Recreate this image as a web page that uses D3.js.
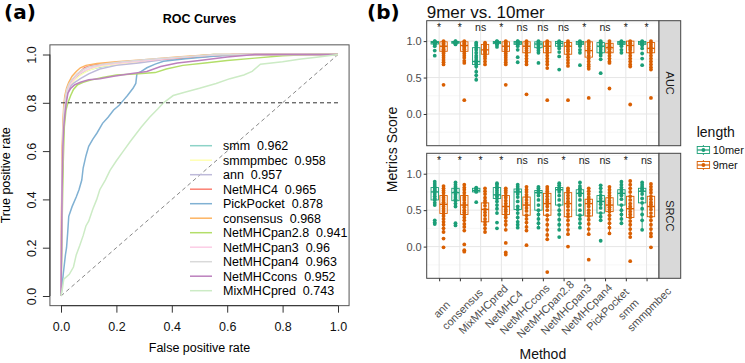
<!DOCTYPE html>
<html>
<head>
<meta charset="utf-8">
<script src="https://cdn.jsdelivr.net/npm/d3@7"></script>
<style>
  body { margin: 0; background: #fff; }
  text { font-family: "Liberation Sans", Arial, sans-serif; }
</style>
</head>
<body>
<svg id="chart" width="745" height="363"></svg>
<script>
// ---- panel (a): ROC curves ----
const rocNames = ["smm", "smmpmbec", "ann", "NetMHC4", "PickPocket", "consensus",
  "NetMHCpan2.8", "NetMHCpan3", "NetMHCpan4", "NetMHCcons", "MixMHCpred"];
const rocAuc = ["0.962", "0.958", "0.957", "0.965", "0.878", "0.968", "0.941", "0.96", "0.963", "0.952", "0.743"];

const rocSmm = [[0,0],[0.003,0.35],[0.006,0.62],[0.01,0.74],[0.014,0.8],[0.02,0.84],[0.03,0.865],[0.045,0.89],[0.06,0.91],[0.08,0.925],[0.11,0.94],[0.15,0.95],[0.2,0.96],[0.28,0.97],[0.36,0.98],[0.45,0.99],[0.55,1],[1,1]];
const rocSmmpmbec = [[0,0],[0.003,0.3],[0.006,0.6],[0.01,0.73],[0.015,0.8],[0.022,0.84],[0.032,0.87],[0.05,0.895],[0.07,0.915],[0.1,0.935],[0.14,0.95],[0.2,0.96],[0.3,0.97],[0.4,0.985],[0.5,0.995],[0.6,1],[1,1]];
const rocAnn = [[0,0],[0.004,0.4],[0.008,0.66],[0.012,0.76],[0.018,0.81],[0.025,0.845],[0.035,0.87],[0.05,0.885],[0.07,0.9],[0.1,0.92],[0.14,0.94],[0.2,0.955],[0.28,0.965],[0.38,0.98],[0.5,0.99],[0.62,1],[1,1]];
const rocNetMHC4 = [[0,0],[0.002,0.3],[0.004,0.55],[0.007,0.68],[0.01,0.76],[0.014,0.81],[0.02,0.85],[0.028,0.875],[0.04,0.895],[0.055,0.91],[0.07,0.93],[0.085,0.945],[0.11,0.955],[0.16,0.963],[0.25,0.972],[0.35,0.98],[0.5,0.99],[0.62,1],[1,1]];
const rocPickPocket = [[0,0],[0.004,0.04],[0.008,0.09],[0.012,0.13],[0.016,0.17],[0.02,0.2],[0.024,0.26],[0.028,0.33],[0.04,0.37],[0.055,0.41],[0.065,0.44],[0.075,0.48],[0.08,0.53],[0.09,0.58],[0.1,0.62],[0.115,0.65],[0.13,0.675],[0.15,0.715],[0.17,0.74],[0.19,0.77],[0.21,0.79],[0.225,0.81],[0.24,0.83],[0.26,0.86],[0.27,0.88],[0.274,0.92],[0.29,0.93],[0.31,0.945],[0.34,0.96],[0.37,0.972],[0.45,0.982],[0.55,0.993],[0.65,1],[1,1]];
const rocConsensus = [[0,0],[0.002,0.35],[0.004,0.6],[0.007,0.72],[0.01,0.79],[0.014,0.83],[0.02,0.86],[0.028,0.885],[0.04,0.91],[0.055,0.93],[0.07,0.945],[0.09,0.955],[0.13,0.963],[0.2,0.97],[0.3,0.978],[0.42,0.99],[0.55,1],[1,1]];
const rocNetMHCpan28 = [[0,0],[0.004,0.3],[0.008,0.55],[0.012,0.7],[0.018,0.77],[0.025,0.8],[0.035,0.83],[0.045,0.855],[0.06,0.875],[0.08,0.885],[0.11,0.895],[0.15,0.905],[0.2,0.915],[0.28,0.92],[0.34,0.925],[0.38,0.94],[0.44,0.955],[0.52,0.965],[0.6,0.975],[0.7,0.985],[0.8,0.995],[0.9,1],[1,1]];
const rocNetMHCpan3 = [[0,0],[0.003,0.4],[0.006,0.62],[0.01,0.75],[0.015,0.81],[0.022,0.85],[0.032,0.875],[0.045,0.895],[0.06,0.915],[0.08,0.93],[0.11,0.945],[0.16,0.958],[0.24,0.968],[0.34,0.978],[0.45,0.99],[0.58,1],[1,1]];
const rocNetMHCpan4 = [[0,0],[0.003,0.42],[0.006,0.64],[0.01,0.76],[0.015,0.82],[0.021,0.855],[0.03,0.88],[0.042,0.9],[0.058,0.92],[0.075,0.935],[0.1,0.948],[0.15,0.96],[0.22,0.97],[0.32,0.98],[0.44,0.99],[0.56,1],[1,1]];
const rocNetMHCcons = [[0,0],[0.002,0.2],[0.004,0.45],[0.007,0.62],[0.01,0.7],[0.014,0.75],[0.019,0.8],[0.025,0.84],[0.035,0.86],[0.05,0.875],[0.07,0.885],[0.1,0.895],[0.14,0.9],[0.19,0.91],[0.25,0.92],[0.31,0.93],[0.36,0.95],[0.42,0.965],[0.5,0.975],[0.6,0.99],[0.7,1],[1,1]];
const rocMixMHCpred = [[0,0],[0.005,0.03],[0.01,0.07],[0.03,0.09],[0.045,0.12],[0.055,0.17],[0.068,0.21],[0.08,0.25],[0.09,0.29],[0.1,0.31],[0.115,0.36],[0.129,0.4],[0.14,0.44],[0.16,0.48],[0.177,0.52],[0.2,0.56],[0.225,0.6],[0.25,0.64],[0.27,0.67],[0.29,0.7],[0.32,0.74],[0.35,0.775],[0.37,0.8],[0.405,0.83],[0.45,0.845],[0.5,0.86],[0.56,0.88],[0.61,0.9],[0.66,0.915],[0.69,0.93],[0.72,0.96],[0.8,0.97],[0.86,0.98],[0.93,0.99],[1,1]];

const rocCurves = [rocSmm, rocSmmpmbec, rocAnn, rocNetMHC4, rocPickPocket, rocConsensus,
  rocNetMHCpan28, rocNetMHCpan3, rocNetMHCpan4, rocNetMHCcons, rocMixMHCpred];
const rocTicks = [0, 0.2, 0.4, 0.6, 0.8, 1.0];
const tprCutoff = 0.8;

// ---- panel (b): box plots ----
const methods = ["ann", "consensus", "MixMHCpred", "NetMHC4", "NetMHCcons", "NetMHCpan2.8",
  "NetMHCpan3", "NetMHCpan4", "PickPocket", "smm", "smmpmbec"];
const lengths = ["10mer", "9mer"];
const metrics = ["AUC", "SRCC"];
const aucSig = ["*", "*", "ns", "*", "ns", "ns", "ns", "*", "ns", "*", "*"];
const srccSig = ["*", "*", "*", "*", "ns", "ns", "*", "ns", "ns", "*", "ns"];
const scoreTicks = [0, 0.5, 1.0];
const scoreMinor = [-0.25, 0.25, 0.75, 1.25];

// box stats: [lower whisker, q1, median, q3, upper whisker]
const aucBox10 = [[0.93,0.96,0.98,0.995,1],[0.955,0.97,0.985,0.995,1],[0.47,0.68,0.72,0.91,0.98],[0.95,0.965,0.98,0.995,1],[0.93,0.955,0.975,0.995,1],[0.84,0.91,0.96,0.99,1],[0.9,0.93,0.97,0.995,1],[0.93,0.955,0.975,0.995,1],[0.8,0.84,0.93,0.98,1],[0.93,0.955,0.975,0.995,1],[0.93,0.955,0.975,0.995,1]];
const aucBox9 = [[0.68,0.86,0.93,0.99,1],[0.7,0.86,0.94,0.99,1],[0.68,0.82,0.88,0.955,0.98],[0.68,0.86,0.93,0.99,1],[0.68,0.84,0.93,0.99,1],[0.63,0.84,0.93,0.99,1],[0.66,0.82,0.93,0.98,1],[0.62,0.78,0.87,0.99,1],[0.7,0.84,0.91,0.97,1],[0.65,0.84,0.94,1,1],[0.61,0.84,0.9,0.98,1]];
const srccBox10 = [[0.57,0.64,0.75,0.81,0.89],[0.55,0.63,0.74,0.8,0.88],[0.75,0.75,0.77,0.8,0.81],[0.46,0.66,0.71,0.81,0.87],[0.26,0.51,0.75,0.79,0.85],[0.26,0.5,0.74,0.77,0.82],[0.23,0.57,0.78,0.81,0.87],[0.26,0.43,0.73,0.78,0.88],[0.36,0.46,0.62,0.7,0.84],[0.32,0.57,0.73,0.78,0.89],[0.23,0.6,0.76,0.8,0.88]];
const srccBox9 = [[0.2,0.455,0.58,0.7,0.83],[0.22,0.44,0.57,0.7,0.85],[0.2,0.34,0.51,0.6,0.8],[0.23,0.44,0.55,0.7,0.8],[0.22,0.43,0.57,0.68,0.82],[0.1,0.43,0.59,0.73,0.82],[0.17,0.41,0.59,0.74,0.8],[0.17,0.42,0.59,0.65,0.8],[0.18,0.48,0.57,0.67,0.82],[0.13,0.4,0.52,0.69,0.9],[0.14,0.41,0.55,0.69,0.86]];

// all observations per method
const aucPts10 = [
  [1,0.995,0.99,0.985,0.98,0.975,0.97,0.96,0.95,0.93,0.87,0.8],
  [1,0.995,0.99,0.985,0.98,0.975,0.97,0.96,0.955],
  [0.98,0.96,0.94,0.91,0.88,0.84,0.8,0.77,0.74,0.72,0.7,0.68,0.65,0.58,0.53,0.47],
  [1,0.995,0.99,0.98,0.975,0.97,0.96,0.95,0.92],
  [1,0.995,0.99,0.98,0.97,0.96,0.95,0.93,0.88,0.78,0.71],
  [1,0.99,0.98,0.96,0.94,0.92,0.9,0.87,0.84,0.7],
  [1,0.99,0.98,0.97,0.95,0.93,0.9,0.85,0.79,0.61],
  [1,0.99,0.98,0.97,0.96,0.95,0.93,0.88,0.84,0.67],
  [1,0.99,0.97,0.95,0.93,0.91,0.88,0.85,0.83,0.8,0.75,0.56],
  [1,0.99,0.98,0.97,0.96,0.95,0.93,0.88,0.84],
  [1,0.99,0.98,0.97,0.96,0.94,0.9,0.83,0.76,0.67]];
const aucPts9 = [
  [1,0.99,0.97,0.95,0.93,0.91,0.89,0.87,0.85,0.83,0.8,0.77,0.74,0.71,0.68,0.4],
  [1,0.99,0.97,0.95,0.93,0.91,0.89,0.86,0.83,0.8,0.77,0.73,0.7,0.19],
  [0.98,0.96,0.94,0.92,0.9,0.88,0.86,0.84,0.82,0.79,0.76,0.72,0.68],
  [1,0.99,0.97,0.95,0.93,0.91,0.89,0.86,0.83,0.8,0.77,0.74,0.71,0.68,0.4],
  [1,0.99,0.97,0.95,0.93,0.9,0.87,0.84,0.8,0.76,0.72,0.68,0.27],
  [1,0.99,0.97,0.95,0.93,0.9,0.87,0.84,0.8,0.76,0.72,0.68,0.63,0.19],
  [1,0.98,0.96,0.94,0.92,0.89,0.86,0.82,0.78,0.74,0.7,0.66,0.19],
  [1,0.98,0.96,0.93,0.9,0.87,0.84,0.8,0.76,0.72,0.68,0.65,0.62,0.22],
  [1,0.97,0.95,0.93,0.91,0.89,0.86,0.84,0.8,0.76,0.72,0.7,0.35],
  [1,0.99,0.97,0.94,0.91,0.88,0.84,0.8,0.76,0.72,0.68,0.65,0.13],
  [1,0.98,0.95,0.92,0.9,0.87,0.84,0.8,0.76,0.72,0.68,0.64,0.61,0.22]];
const srccPts10 = [
  [0.89,0.86,0.83,0.81,0.79,0.77,0.75,0.72,0.69,0.66,0.64,0.6,0.57,0.36,0.33,0.31],
  [0.88,0.85,0.82,0.8,0.78,0.76,0.74,0.71,0.68,0.65,0.63,0.59,0.55,0.32,0.29],
  [0.81,0.8,0.78,0.77,0.76,0.75,0.61],
  [0.87,0.85,0.82,0.8,0.77,0.74,0.71,0.69,0.66,0.62,0.57,0.52,0.46,0.33,0.25],
  [0.85,0.82,0.79,0.77,0.75,0.72,0.68,0.62,0.55,0.51,0.46,0.4,0.34,0.3,0.26],
  [0.82,0.8,0.77,0.75,0.74,0.7,0.64,0.57,0.5,0.44,0.38,0.32,0.26],
  [0.87,0.84,0.81,0.79,0.78,0.75,0.7,0.64,0.57,0.5,0.44,0.37,0.3,0.23,0.13],
  [0.88,0.83,0.8,0.78,0.75,0.73,0.7,0.64,0.57,0.5,0.43,0.38,0.32,0.26],
  [0.84,0.8,0.75,0.7,0.66,0.62,0.58,0.53,0.46,0.41,0.36,0.08],
  [0.89,0.85,0.81,0.78,0.75,0.73,0.7,0.65,0.57,0.5,0.44,0.38,0.32],
  [0.88,0.85,0.82,0.8,0.78,0.76,0.72,0.66,0.6,0.52,0.44,0.36,0.23]];
const srccPts9 = [
  [0.83,0.8,0.77,0.74,0.7,0.67,0.64,0.61,0.58,0.55,0.52,0.49,0.455,0.42,0.38,0.34,0.3,0.25,0.2,0.11,-0.01],
  [0.85,0.81,0.78,0.74,0.7,0.67,0.64,0.6,0.57,0.54,0.5,0.47,0.44,0.4,0.36,0.31,0.27,0.22,0.03,-0.05,-0.07],
  [0.8,0.76,0.72,0.67,0.63,0.6,0.56,0.51,0.47,0.43,0.38,0.34,0.3,0.25,0.2],
  [0.8,0.77,0.74,0.7,0.67,0.63,0.59,0.55,0.51,0.48,0.44,0.4,0.35,0.3,0.23,0.05,-0.08,-0.11],
  [0.82,0.78,0.75,0.71,0.68,0.64,0.6,0.57,0.53,0.49,0.43,0.38,0.33,0.27,0.22,0.02],
  [0.82,0.79,0.76,0.73,0.69,0.65,0.62,0.59,0.55,0.5,0.43,0.37,0.3,0.23,0.16,0.1,-0.35],
  [0.8,0.77,0.74,0.7,0.66,0.62,0.59,0.55,0.5,0.45,0.41,0.36,0.3,0.23,0.17,0],
  [0.8,0.76,0.72,0.68,0.65,0.62,0.59,0.55,0.5,0.46,0.42,0.37,0.31,0.24,0.17,-0.18],
  [0.82,0.78,0.74,0.7,0.67,0.63,0.6,0.57,0.54,0.51,0.48,0.43,0.38,0.32,0.26,0.18],
  [0.9,0.85,0.8,0.75,0.69,0.64,0.59,0.55,0.52,0.48,0.44,0.4,0.35,0.3,0.24,0.18,0.13,-0.2],
  [0.86,0.82,0.78,0.74,0.69,0.65,0.61,0.58,0.55,0.51,0.46,0.41,0.36,0.3,0.24,0.18,0.14,-0.01]];

// colours
const rocColors = d3.schemeSet3;
const lenColor = { "10mer": "#1b9e77", "9mer": "#d95f02" };

const svg = d3.select("#chart");

// ======================= panel (a) =======================
const xA = d3.scaleLinear().domain([0, 1]).range([61, 338]);
const yA = d3.scaleLinear().domain([0, 1]).range([296, 54.5]);
const boxL = xA(-0.04), boxR = xA(1.04), boxT = yA(1.04), boxB = yA(-0.04);

svg.append("text").attr("x", 4).attr("y", 19)
  .style("font-family", "'DejaVu Sans', sans-serif")
  .style("font-weight", "bold").style("font-size", "20px").text("(a)");

svg.append("text").attr("x", (boxL + boxR) / 2).attr("y", 23)
  .attr("text-anchor", "middle").style("font-weight", "bold").style("font-size", "12.5px")
  .text("ROC Curves");

// reference lines
svg.append("line")
  .attr("x1", xA(0)).attr("y1", yA(0)).attr("x2", xA(1)).attr("y2", yA(1))
  .attr("stroke", "#888").attr("stroke-width", 1).attr("stroke-dasharray", "4,3");

const line = d3.line().x(d => xA(d[0])).y(d => yA(d[1]));
rocCurves.forEach((c, i) => {
  svg.append("path").datum(c)
    .attr("d", line).attr("fill", "none")
    .attr("stroke", rocColors[i]).attr("stroke-width", 1.5);
});

svg.append("line")
  .attr("x1", xA(0)).attr("x2", xA(1)).attr("y1", yA(tprCutoff)).attr("y2", yA(tprCutoff))
  .attr("stroke", "#333").attr("stroke-width", 1).attr("stroke-dasharray", "4,3");

svg.append("rect")
  .attr("x", boxL).attr("y", boxT).attr("width", boxR - boxL).attr("height", boxB - boxT)
  .attr("fill", "none").attr("stroke", "#555").attr("stroke-width", 1);

// x axis
const xAxisA = svg.append("g").attr("transform", `translate(0,${boxB})`)
  .call(d3.axisBottom(xA).tickValues(rocTicks).tickFormat(d3.format(".1f")).tickSize(7).tickSizeOuter(0));
xAxisA.select(".domain").attr("d", `M${xA(0)},0H${xA(1)}`).attr("stroke", "#333");
xAxisA.selectAll("line").attr("stroke", "#333");
xAxisA.selectAll("text").attr("y", 16).style("font-size", "12.5px").attr("fill", "#111")
  .style("font-family", "'Liberation Sans', Arial, sans-serif");

// y axis
const yAxisA = svg.append("g").attr("transform", `translate(${boxL},0)`)
  .call(d3.axisLeft(yA).tickValues(rocTicks).tickFormat(d3.format(".1f")).tickSize(7).tickSizeOuter(0));
yAxisA.select(".domain").attr("d", `M0,${yA(0)}V${yA(1)}`).attr("stroke", "#333");
yAxisA.selectAll("line").attr("stroke", "#333");
yAxisA.selectAll("text")
  .attr("x", null).attr("dy", null)
  .attr("transform", "translate(-14,0) rotate(-90)")
  .attr("text-anchor", "middle").attr("fill", "#111")
  .style("font-size", "12.5px").style("font-family", "'Liberation Sans', Arial, sans-serif");

svg.append("text").attr("x", (boxL + boxR) / 2).attr("y", 352)
  .attr("text-anchor", "middle").style("font-size", "12.5px").text("False positive rate");
svg.append("text").attr("transform", `translate(10,${(boxT + boxB) / 2}) rotate(-90)`)
  .attr("text-anchor", "middle").style("font-size", "12.5px").text("True positive rate");

// legend
const legA = svg.append("g").attr("transform", "translate(190,145.7)");
rocNames.forEach((n, i) => {
  const g = legA.append("g").attr("transform", `translate(0,${i * 14.5})`);
  g.append("line").attr("x1", 0).attr("x2", 22).attr("y1", 0).attr("y2", 0)
    .attr("stroke", rocColors[i]).attr("stroke-width", 1.5);
  g.append("text").attr("x", 33).attr("y", 4.5)
    .style("font-size", "12.5px").style("white-space", "pre")
    .text(n + "  " + rocAuc[i]);
});

// ======================= panel (b) =======================
const pL = 426.7, pR = 659, stripW = 21.7;
const panels = [
  { metric: "AUC", top: 20.7, bottom: 145.7, box10: aucBox10, box9: aucBox9, pts10: aucPts10, pts9: aucPts9, sig: aucSig },
  { metric: "SRCC", top: 153.3, bottom: 278.3, box10: srccBox10, box9: srccBox9, pts10: srccPts10, pts9: srccPts9, sig: srccSig }
];
const xB = d3.scalePoint().domain(methods).range([pL, pR]).padding(0.6);
const dodge = 4.4, bw = 7.4;

svg.append("text").attr("x", 367).attr("y", 19)
  .style("font-family", "'DejaVu Sans', sans-serif")
  .style("font-weight", "bold").style("font-size", "20px").text("(b)");
svg.append("text").attr("x", pL).attr("y", 17.5).style("font-size", "17px")
  .attr("fill", "#111").text("9mer vs. 10mer");

panels.forEach(p => {
  const y = d3.scaleLinear().domain([-0.435, 1.28]).range([p.bottom, p.top]);
  const g = svg.append("g");

  g.append("rect").attr("x", pL).attr("y", p.top).attr("width", pR - pL).attr("height", p.bottom - p.top)
    .attr("fill", "#fff");
  // grid
  g.selectAll(".minor").data(scoreMinor).enter().append("line")
    .attr("x1", pL).attr("x2", pR).attr("y1", d => y(d)).attr("y2", d => y(d))
    .attr("stroke", "#f2f2f2").attr("stroke-width", 0.6);
  g.selectAll(".major").data(scoreTicks).enter().append("line")
    .attr("x1", pL).attr("x2", pR).attr("y1", d => y(d)).attr("y2", d => y(d))
    .attr("stroke", "#e6e6e6").attr("stroke-width", 1);
  g.selectAll(".vmajor").data(methods).enter().append("line")
    .attr("x1", d => xB(d)).attr("x2", d => xB(d)).attr("y1", p.top).attr("y2", p.bottom)
    .attr("stroke", "#e6e6e6").attr("stroke-width", 1);

  // boxes
  lengths.forEach((len, li) => {
    const boxes = li === 0 ? p.box10 : p.box9;
    const pts = li === 0 ? p.pts10 : p.pts9;
    const col = lenColor[len];
    methods.forEach((m, mi) => {
      const cx = xB(m) + (li === 0 ? -dodge : dodge);
      const [lo, q1, med, q3, hi] = boxes[mi];
      g.append("line").attr("x1", cx).attr("x2", cx).attr("y1", y(hi)).attr("y2", y(q3))
        .attr("stroke", col).attr("stroke-width", 0.9);
      g.append("line").attr("x1", cx).attr("x2", cx).attr("y1", y(q1)).attr("y2", y(lo))
        .attr("stroke", col).attr("stroke-width", 0.9);
      g.append("rect").attr("x", cx - bw / 2).attr("y", y(q3)).attr("width", bw)
        .attr("height", Math.max(0.5, y(q1) - y(q3)))
        .attr("fill", "#fff").attr("fill-opacity", 0.6).attr("stroke", col).attr("stroke-width", 0.9);
      g.append("line").attr("x1", cx - bw / 2).attr("x2", cx + bw / 2).attr("y1", y(med)).attr("y2", y(med))
        .attr("stroke", col).attr("stroke-width", 1.4);
      g.selectAll(null).data(pts[mi]).enter().append("circle")
        .attr("cx", cx).attr("cy", d => y(d)).attr("r", 1.9).attr("fill", col);
    });
  });

  // significance labels
  g.selectAll(".sig").data(methods).enter().append("text")
    .attr("x", d => xB(d)).attr("y", y(1.14))
    .attr("text-anchor", "middle").style("font-size", "10.5px").attr("fill", "#222")
    .text((d, i) => p.sig[i]);

  // border
  g.append("rect").attr("x", pL).attr("y", p.top).attr("width", pR - pL).attr("height", p.bottom - p.top)
    .attr("fill", "none").attr("stroke", "#444").attr("stroke-width", 1);

  // strip
  g.append("rect").attr("x", pR).attr("y", p.top).attr("width", stripW).attr("height", p.bottom - p.top)
    .attr("fill", "#d9d9d9").attr("stroke", "#444").attr("stroke-width", 1);
  g.append("text")
    .attr("transform", `translate(${pR + stripW / 2 - 4},${(p.top + p.bottom) / 2}) rotate(90)`)
    .attr("text-anchor", "middle").style("font-size", "11px").attr("fill", "#1a1a1a")
    .text(p.metric);

  // y axis
  const ya = g.append("g").attr("transform", `translate(${pL},0)`)
    .call(d3.axisLeft(y).tickValues(scoreTicks).tickFormat(d3.format(".1f")).tickSize(3).tickPadding(2));
  ya.select(".domain").remove();
  ya.selectAll("line").attr("stroke", "#333");
  ya.selectAll("text").attr("fill", "#4d4d4d").style("font-size", "11px")
    .style("font-family", "'Liberation Sans', Arial, sans-serif");
});

// x axis of panel b (labels centred below the ticks, turned 45 degrees)
const xa = svg.append("g").attr("transform", `translate(0,${panels[1].bottom})`)
  .call(d3.axisBottom(xB).tickSize(3));
xa.select(".domain").remove();
xa.selectAll("line").attr("stroke", "#333");
xa.selectAll("text")
  .attr("y", null).attr("dy", "0.35em")
  .attr("transform", "translate(2,31) rotate(-45)")
  .attr("text-anchor", "middle").attr("fill", "#4d4d4d")
  .style("font-size", "11px").style("font-family", "'Liberation Sans', Arial, sans-serif");

svg.append("text").attr("x", (pL + pR) / 2).attr("y", 359)
  .attr("text-anchor", "middle").style("font-size", "14px").attr("fill", "#111").text("Method");
svg.append("text").attr("transform", `translate(397,${(panels[0].top + panels[1].bottom) / 2}) rotate(-90)`)
  .attr("text-anchor", "middle").style("font-size", "14px").attr("fill", "#111").text("Metrics Score");

// legend of panel b
const legB = svg.append("g").attr("transform", "translate(696.7,137)");
legB.append("text").style("font-size", "14px").attr("fill", "#111").text("length");
lengths.forEach((len, i) => {
  const col = lenColor[len];
  const k = legB.append("g").attr("transform", `translate(0,${8 + i * 15})`);
  k.append("line").attr("x1", 6.7).attr("x2", 6.7).attr("y1", 0).attr("y2", 10)
    .attr("stroke", col).attr("stroke-width", 0.9);
  k.append("rect").attr("x", 0.5).attr("y", 1.5).attr("width", 12.4).attr("height", 7)
    .attr("fill", "#fff").attr("stroke", col).attr("stroke-width", 0.9);
  k.append("line").attr("x1", 0.5).attr("x2", 12.9).attr("y1", 5).attr("y2", 5)
    .attr("stroke", col).attr("stroke-width", 1.2);
  k.append("circle").attr("cx", 6.7).attr("cy", 5).attr("r", 1.9).attr("fill", col);
  k.append("text").attr("x", 16).attr("y", 9).style("font-size", "11px").attr("fill", "#111").text(len);
});
</script>
</body>
</html>
